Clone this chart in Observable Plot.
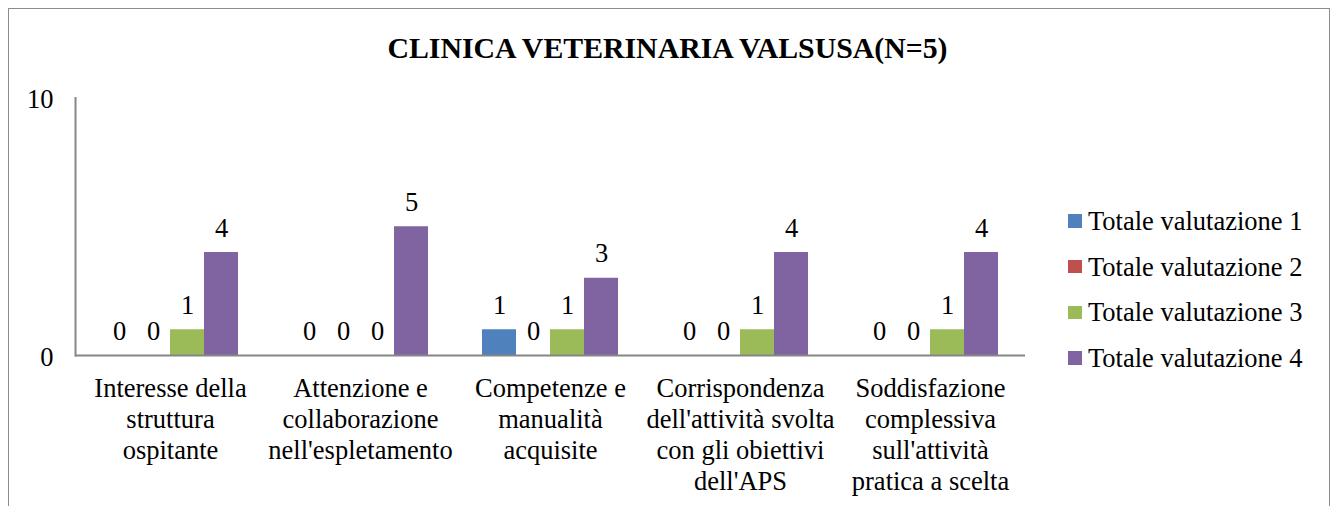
<!DOCTYPE html>
<html>
<head>
<meta charset="utf-8">
<script src="https://cdn.jsdelivr.net/npm/d3@7"></script>
<script src="https://cdn.jsdelivr.net/npm/@observablehq/plot@0.6"></script>
<style>
  html, body { margin: 0; padding: 0; background: #fff; }
  body { width: 1335px; height: 506px; position: relative; overflow: hidden; }
  #frame { position: absolute; left: 8px; top: 8px; width: 1322px; height: 520px; border: 1.5px solid #8c8c8c; box-sizing: border-box; }
  #title { position: absolute; left: 0; width: 1335px; top: 33px; text-align: center; font-family: 'Liberation Serif', 'Times New Roman', serif; font-weight: bold; font-size: 29.8px; line-height: 29px; color: #000; white-space: nowrap; }
  #chart { position: absolute; left: 0; top: 0; }
  .lg-row { position: absolute; left: 1088px; font-family: 'Liberation Serif', 'Times New Roman', serif; font-size: 26.5px; line-height: 26.5px; white-space: nowrap; color: #000; }
  .lg-sw { position: absolute; left: 1068px; width: 13.5px; height: 13.5px; }
</style>
</head>
<body>
<div id="frame"></div>
<div id="title">CLINICA VETERINARIA VALSUSA(N=5)</div>
<div id="chart"></div>
<div id="legend"></div>
<script>
// ---- data ----
const categories = [
  "Interesse della struttura ospitante",
  "Attenzione e collaborazione nell'espletamento",
  "Competenze e manualità acquisite",
  "Corrispondenza dell'attività svolta con gli obiettivi dell'APS",
  "Soddisfazione complessiva sull'attività pratica a scelta"
];
const categoryLabels = [
  "Interesse della\nstruttura\nospitante",
  "Attenzione e\ncollaborazione\nnell'espletamento",
  "Competenze e\nmanualità\nacquisite",
  "Corrispondenza\ndell'attività svolta\ncon gli obiettivi\ndell'APS",
  "Soddisfazione\ncomplessiva\nsull'attività\npratica a scelta"
];
const series = ["Totale valutazione 1", "Totale valutazione 2", "Totale valutazione 3", "Totale valutazione 4"];
const valutazione1 = [0, 0, 1, 0, 0];
const valutazione2 = [0, 0, 0, 0, 0];
const valutazione3 = [1, 0, 1, 1, 1];
const valutazione4 = [4, 5, 3, 4, 4];
const colors = ["#4F81BD", "#C0504D", "#9BBB59", "#8064A2"];
const yTicks = [0, 10];

const seriesValues = [valutazione1, valutazione2, valutazione3, valutazione4];
const table = [];
categories.forEach((c, i) => {
  series.forEach((s, j) => table.push({category: c, series: s, value: seriesValues[j][i]}));
});
const labelOf = new Map(categories.map((c, i) => [c, categoryLabels[i]]));

const axisColor = "#868686";
const serifFont = "'Liberation Serif', 'Times New Roman', serif";

const plot = Plot.plot({
  width: 1040,
  height: 506,
  marginLeft: 75,
  marginRight: 15,
  marginTop: 97.5,
  marginBottom: 151,
  style: {background: "transparent", fontFamily: serifFont, fontSize: "26.5px", color: "#000"},
  fx: {domain: categories, padding: 0, label: null},
  x: {domain: series, paddingInner: 0, paddingOuter: 0.754, axis: null},
  y: {domain: [0, 10], label: null},
  color: {domain: series, range: colors},
  marks: [
    Plot.barY(table, {fx: "category", x: "series", y: "value", fill: "series"}),
    Plot.text(table, {fx: "category", x: "series", y: "value", text: d => String(d.value), lineAnchor: "bottom", dy: -16, fill: "#000"}),
    Plot.ruleY([0], {stroke: axisColor, strokeWidth: 2}),
    Plot.frame({anchor: "left", facetAnchor: "left", stroke: axisColor, strokeWidth: 2}),
    Plot.axisY({ticks: yTicks, tickSize: 0, tickPadding: 22, anchor: "left", label: null, fill: "#000", dy: 2}),
    Plot.axisFx({anchor: "bottom", tickSize: 0, tickPadding: 20, lineHeight: 1.16, lineAnchor: "top", tickFormat: d => labelOf.get(d), label: null, fill: "#000"})
  ]
});
document.getElementById("chart").appendChild(plot);

// legend
const lg = d3.select("#legend");
series.forEach((s, i) => {
  const cy = 221 + i * 45.7;
  lg.append("div").attr("class", "lg-sw").style("top", (cy - 6.75) + "px").style("background", colors[i]);
  lg.append("div").attr("class", "lg-row").style("top", (cy + 9 - 22.2) + "px").text(s);
});
</script>
</body>
</html>
